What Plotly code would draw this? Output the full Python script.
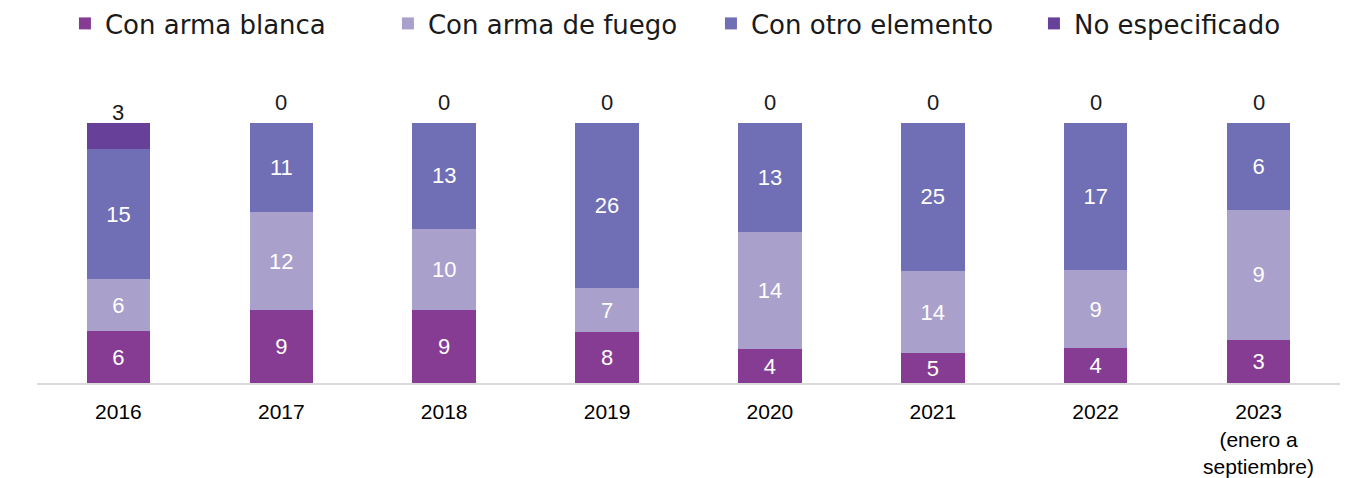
import plotly.graph_objects as go

categories = ["2016", "2017", "2018", "2019", "2020", "2021", "2022", "2023<br>(enero a<br>septiembre)"]
arma_blanca = [6, 9, 9, 8, 4, 5, 4, 3]
arma_fuego = [6, 12, 10, 7, 14, 14, 9, 9]
otro_elemento = [15, 11, 13, 26, 13, 25, 17, 6]
no_especificado = [3, 0, 0, 0, 0, 0, 0, 0]

series = [
    ("Con arma blanca", arma_blanca, "#873C94", True),
    ("Con arma de fuego", arma_fuego, "#AAA0CC", True),
    ("Con otro elemento", otro_elemento, "#706EB4", True),
    ("No especificado", no_especificado, "#674199", False),
]

xpos = list(range(len(categories)))
label_font = "Liberation Sans, Arial, sans-serif"

fig = go.Figure()
for name, vals, color, show_text in series:
    fig.add_trace(go.Bar(
        x=xpos, y=vals, name=name,
        marker=dict(color=color, line=dict(width=0)),
        text=[str(v) for v in vals] if show_text else None,
        textposition="inside" if show_text else "none",
        insidetextanchor="middle",
        textangle=0,
        constraintext="none",
        textfont=dict(color="white", size=22, family=label_font),
        hoverinfo="skip",
    ))

for i, v in zip(xpos, no_especificado):
    fig.add_annotation(x=i, y=100, xref="x", yref="y", text=str(v), showarrow=False,
                       yanchor="bottom", yshift=(-4 if v > 0 else 6),
                       font=dict(size=22, color="#1a1a1a", family=label_font))

fig.update_layout(
    width=1353, height=478,
    barmode="stack", barnorm="percent",
    bargap=0.61,
    plot_bgcolor="white", paper_bgcolor="white",
    margin=dict(l=37, r=13, t=90, b=95, autoexpand=False),
    showlegend=True,
    legend=dict(orientation="h", xref="container", x=0.048, xanchor="left",
                y=1.0, yref="container", yanchor="top",
                font=dict(size=26, color="#1a1a1a", family="DejaVu Sans, sans-serif"),
                traceorder="normal", itemwidth=30, entrywidth=278, entrywidthmode="pixels"),
    xaxis=dict(range=[-0.5, 7.5], tickmode="array", tickvals=xpos, ticktext=categories,
               showline=True, linecolor="#D9D9D9", linewidth=2, ticks="", showgrid=False, zeroline=False,
               ticklabelstandoff=9, automargin=False,
               tickfont=dict(size=21, color="#000000", family=label_font)),
    yaxis=dict(range=[0, 112.69], visible=False, showgrid=False, zeroline=False, automargin=False),
)

fig.write_html("out.html")
